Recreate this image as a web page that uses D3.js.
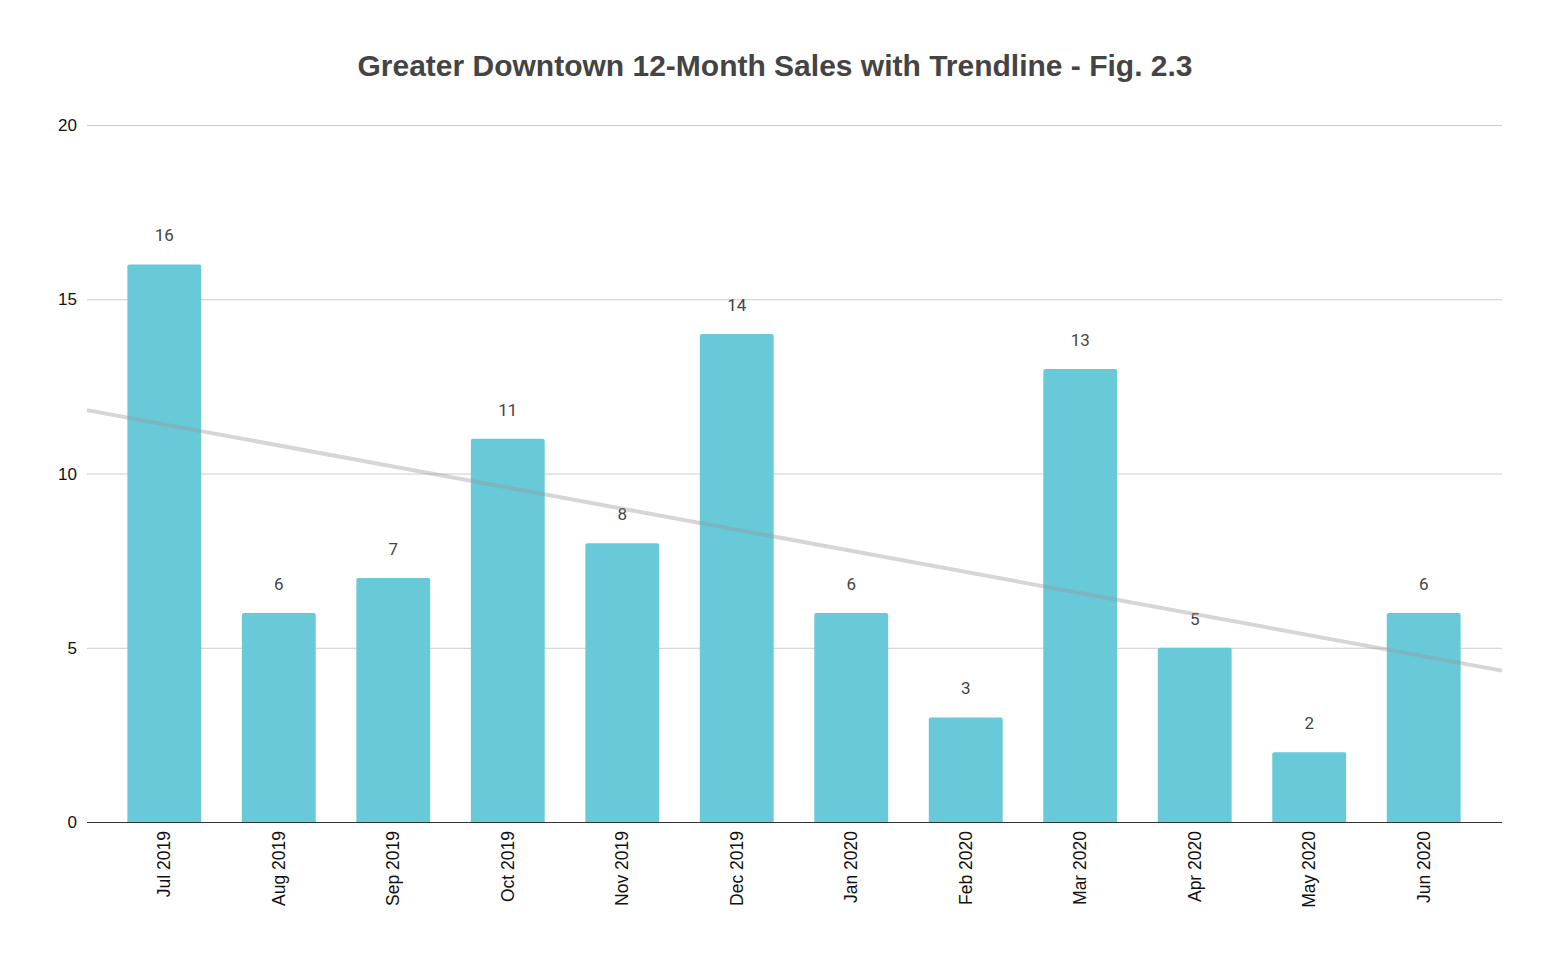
<!DOCTYPE html>
<html><head><meta charset="utf-8">
<script src="https://cdn.jsdelivr.net/npm/d3@7"></script>
<style>body{margin:0;background:#fff}</style>
</head><body>
<svg id="c" width="1550" height="958"></svg>
<script>
const categories = ["Jul 2019","Aug 2019","Sep 2019","Oct 2019","Nov 2019","Dec 2019","Jan 2020","Feb 2020","Mar 2020","Apr 2020","May 2020","Jun 2020"];
const sales = [16,6,7,11,8,14,6,3,13,5,2,6];
const yTicks = [0,5,10,15,20];
const title = "Greater Downtown 12-Month Sales with Trendline - Fig. 2.3";

(function(){
const svg = d3.select("#c");
const pLeft = 87, pRight = 1502, pTop = 125, pBottom = 822;
const y = d3.scaleLinear().domain([0,20]).range([pBottom, pTop]);
const x = d3.scaleBand().domain(categories).range([107, 1481]).paddingInner(0.355).paddingOuter(0.178);

svg.append("text").attr("x", 775).attr("y", 76).attr("text-anchor","middle")
  .attr("font-family","Liberation Sans, Arial, sans-serif").attr("font-weight","bold")
  .attr("font-size", 30).attr("fill","#444").text(title);

// grid
svg.append("g").selectAll("line").data(yTicks.filter(d=>d>0)).join("line")
  .attr("x1", pLeft).attr("x2", pRight).attr("y1", d=>y(d)+0.5).attr("y2", d=>y(d)+0.5)
  .attr("stroke","#cccccc").attr("stroke-width",1);

// y labels
svg.append("g").selectAll("text").data(yTicks).join("text")
  .attr("x", 77).attr("y", d=>y(d)+6).attr("text-anchor","end")
  .attr("font-family","Liberation Sans, Arial, sans-serif").attr("font-size",17).attr("fill","#111")
  .text(d=>d);

// bars
const bw = x.bandwidth();
svg.append("g").selectAll("path").data(sales).join("path")
  .attr("d", (d,i) => {
    const x0 = x(categories[i]), y0 = y(d), r = 2;
    return `M${x0},${pBottom}V${y0+r}Q${x0},${y0} ${x0+r},${y0}H${x0+bw-r}Q${x0+bw},${y0} ${x0+bw},${y0+r}V${pBottom}Z`;
  })
  .attr("fill","#68c9d9");

// axis baseline
svg.append("line").attr("x1",pLeft).attr("x2",pRight).attr("y1",pBottom+0.5).attr("y2",pBottom+0.5)
  .attr("stroke","#333").attr("stroke-width",1);

// value labels
svg.append("g").selectAll("text").data(sales).join("text")
  .attr("x",(d,i)=>x(categories[i])+bw/2).attr("y", d=>y(d)-23)
  .attr("text-anchor","middle").attr("font-family","Roboto, sans-serif").attr("font-size",17)
  .attr("fill","#444").text(d=>d);

// trendline (least squares on index)
const n = sales.length;
const mx = d3.mean(d3.range(n)), my = d3.mean(sales);
let sxy=0, sxx=0;
sales.forEach((v,i)=>{sxy+=(i-mx)*(v-my); sxx+=(i-mx)*(i-mx);});
const slope = sxy/sxx, icpt = my - slope*mx;
const step = x.step();
const c0 = x(categories[0]) + bw/2;
const idxAt = px => (px - c0)/step;
svg.append("line")
  .attr("x1", pLeft).attr("y1", y(icpt + slope*idxAt(pLeft)))
  .attr("x2", pRight).attr("y2", y(icpt + slope*idxAt(pRight)))
  .attr("stroke","#999").attr("stroke-opacity",0.4).attr("stroke-width",4);

// x labels
svg.append("g").selectAll("text").data(categories).join("text")
  .attr("transform",(d)=>`translate(${x(d)+bw/2+6},${pBottom+9}) rotate(-90)`)
  .attr("text-anchor","end")
  .attr("font-family","Liberation Sans, Arial, sans-serif").attr("font-size",17.5).attr("fill","#111")
  .text(d=>d);
})();
</script>
</body></html>
